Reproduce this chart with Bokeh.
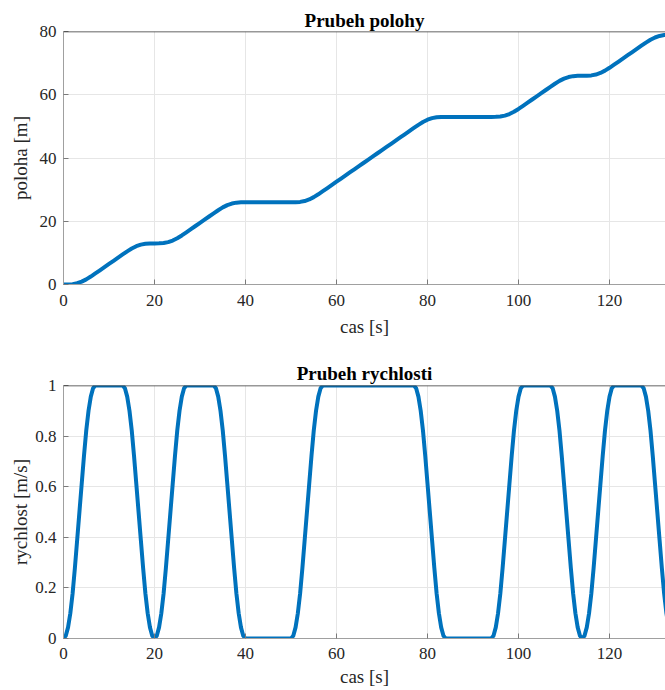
from bokeh.plotting import figure
from bokeh.layouts import column
from bokeh.models import FixedTicker, Range1d, Span
from bokeh.embed import file_html
from bokeh.resources import INLINE

# ---------------- data ----------------
# velocity samples every 0.5 s, t = 0 ... 133 s
cas_v = [i * 0.5 for i in range(267)]
rychlost = [
    # 0 - 20 s
    0, .011, .044, .1, .178, .278, .389, .5, .611, .722, .822, .9, .956, .989, 1,
    1, 1, 1, 1, 1, 1, 1, 1, 1, 1, 1, 1,
    .989, .956, .9, .822, .722, .611, .5, .389, .278, .178, .1, .044, .011, 0,
    # 20.5 - 40 s
    .011, .044, .1, .178, .278, .389, .5, .611, .722, .822, .9, .956, .989, 1,
    1, 1, 1, 1, 1, 1, 1, 1, 1, 1, 1, 1,
    .989, .956, .9, .822, .722, .611, .5, .389, .278, .178, .1, .044, .011, 0,
    # 40.5 - 50 s
    0, 0, 0, 0, 0, 0, 0, 0, 0, 0, 0, 0, 0, 0, 0, 0, 0, 0, 0, 0,
    # 50.5 - 84 s
    .011, .044, .1, .178, .278, .389, .5, .611, .722, .822, .9, .956, .989, 1,
    1, 1, 1, 1, 1, 1, 1, 1, 1, 1, 1, 1, 1, 1, 1, 1, 1, 1, 1, 1,
    1, 1, 1, 1, 1, 1, 1, 1, 1, 1, 1, 1, 1, 1, 1, 1, 1, 1, 1, 1,
    .989, .956, .9, .822, .722, .611, .5, .389, .278, .178, .1, .044, .011, 0,
    # 84.5 - 94 s
    0, 0, 0, 0, 0, 0, 0, 0, 0, 0, 0, 0, 0, 0, 0, 0, 0, 0, 0, 0,
    # 94.5 - 114 s
    .011, .044, .1, .178, .278, .389, .5, .611, .722, .822, .9, .956, .989, 1,
    1, 1, 1, 1, 1, 1, 1, 1, 1, 1, 1, 1,
    .989, .956, .9, .822, .722, .611, .5, .389, .278, .178, .1, .044, .011, 0,
    # 114.5 - 133 s
    .011, .044, .1, .178, .278, .389, .5, .611, .722, .822, .9, .956, .989, 1,
    1, 1, 1, 1, 1, 1, 1, 1, 1, 1, 1, 1,
    .989, .956, .9, .822, .722, .611, .5, .389, .278, .178, .1, .044,
]

# position samples every 1 s, t = 0 ... 133 s
cas_p = list(range(134))
poloha = [
    0, .015, .119, .398, .898, 1.619, 2.515, 3.5,
    4.5, 5.5, 6.5, 7.5, 8.5, 9.5,
    10.485, 11.381, 12.102, 12.602, 12.881, 12.985, 13,
    13.015, 13.119, 13.398, 13.898, 14.619, 15.515, 16.5,
    17.5, 18.5, 19.5, 20.5, 21.5, 22.5,
    23.485, 24.381, 25.102, 25.602, 25.881, 25.985, 26,
    26, 26, 26, 26, 26, 26, 26, 26, 26, 26,
    26.015, 26.119, 26.398, 26.898, 27.619, 28.515, 29.5,
    30.5, 31.5, 32.5, 33.5, 34.5, 35.5, 36.5, 37.5, 38.5, 39.5,
    40.5, 41.5, 42.5, 43.5, 44.5, 45.5, 46.5, 47.5, 48.5, 49.5,
    50.485, 51.381, 52.102, 52.602, 52.881, 52.985, 53,
    53, 53, 53, 53, 53, 53, 53, 53, 53, 53,
    53.015, 53.119, 53.398, 53.898, 54.619, 55.515, 56.5,
    57.5, 58.5, 59.5, 60.5, 61.5, 62.5,
    63.485, 64.381, 65.102, 65.602, 65.881, 65.985, 66,
    66.015, 66.119, 66.398, 66.898, 67.619, 68.515, 69.5,
    70.5, 71.5, 72.5, 73.5, 74.5, 75.5,
    76.485, 77.381, 78.102, 78.602, 78.881, 78.985,
]

x_ticks = [0, 20, 40, 60, 80, 100, 120]
poloha_ticks = [0, 20, 40, 60, 80]
rychlost_ticks = [0, 0.2, 0.4, 0.6, 0.8, 1]
rychlost_labels = ["0", "0.2", "0.4", "0.6", "0.8", "1"]

FONT = "Liberation Serif"
LINE = "#0072BD"
TXT = "#262626"


def make_fig(title, ylabel, y_end, yticks, top_border, bottom_border,
             title_standoff, ylab_standoff, xlab_standoff, xtick_standoff):
    p = figure(
        output_backend="svg", toolbar_location=None,
        frame_width=602, frame_height=253,
        min_border_left=63, min_border_right=0,
        min_border_top=top_border, min_border_bottom=bottom_border,
        x_range=Range1d(0, 132.3), y_range=Range1d(0, y_end),
        x_axis_label="cas [s]", y_axis_label=ylabel,
    )
    p.outline_line_color = None
    p.background_fill_color = "white"
    p.border_fill_color = "white"
    p.title.text = title
    p.title.text_font = FONT
    p.title.text_font_style = "bold"
    p.title.text_font_size = "19px"
    p.title.align = "center"
    p.title.text_color = "black"
    p.title.standoff = title_standoff

    for ax in (p.xaxis[0], p.yaxis[0]):
        ax.axis_line_color = "#a0a0a0"
        ax.major_tick_line_color = "#7a7a7a"
        ax.major_tick_in = 5
        ax.major_tick_out = 0
        ax.minor_tick_line_color = None
        ax.major_label_text_font = FONT
        ax.major_label_text_font_size = "17px"
        ax.major_label_text_color = TXT
        ax.axis_label_text_font = FONT
        ax.axis_label_text_font_size = "19px"
        ax.axis_label_text_font_style = "normal"
        ax.axis_label_text_color = TXT
    p.xaxis[0].ticker = FixedTicker(ticks=x_ticks)
    p.yaxis[0].ticker = FixedTicker(ticks=yticks)
    p.xaxis[0].major_label_standoff = xtick_standoff
    p.xaxis[0].axis_label_standoff = xlab_standoff
    p.yaxis[0].major_label_standoff = 7
    p.yaxis[0].axis_label_standoff = ylab_standoff

    # top edge of the axes box (the box continues past the cropped right edge)
    p.add_layout(Span(location=p.y_range.end, dimension="width",
                      line_color="#333333", line_width=1.5))

    p.xgrid.ticker = FixedTicker(ticks=x_ticks)
    p.ygrid.ticker = FixedTicker(ticks=yticks)
    p.grid.grid_line_color = "#e6e6e6"
    p.grid.grid_line_width = 1
    return p


p1 = make_fig("Prubeh polohy", "poloha [m]", 80, poloha_ticks,
              31, 66, 1, 6, 7, 10)
p1.line(cas_p, poloha, line_color=LINE, line_width=4, line_join="round")

p2 = make_fig("Prubeh rychlosti", "rychlost [m/s]", 1, rychlost_ticks,
              35, 52, 3, 1, 4, 9)
p2.yaxis[0].major_label_overrides = dict(zip(rychlost_ticks, rychlost_labels))
p2.line(cas_v, rychlost, line_color=LINE, line_width=4, line_join="round")

layout = column(p1, p2, spacing=0)
open("out.html", "w").write(file_html(layout, INLINE))
